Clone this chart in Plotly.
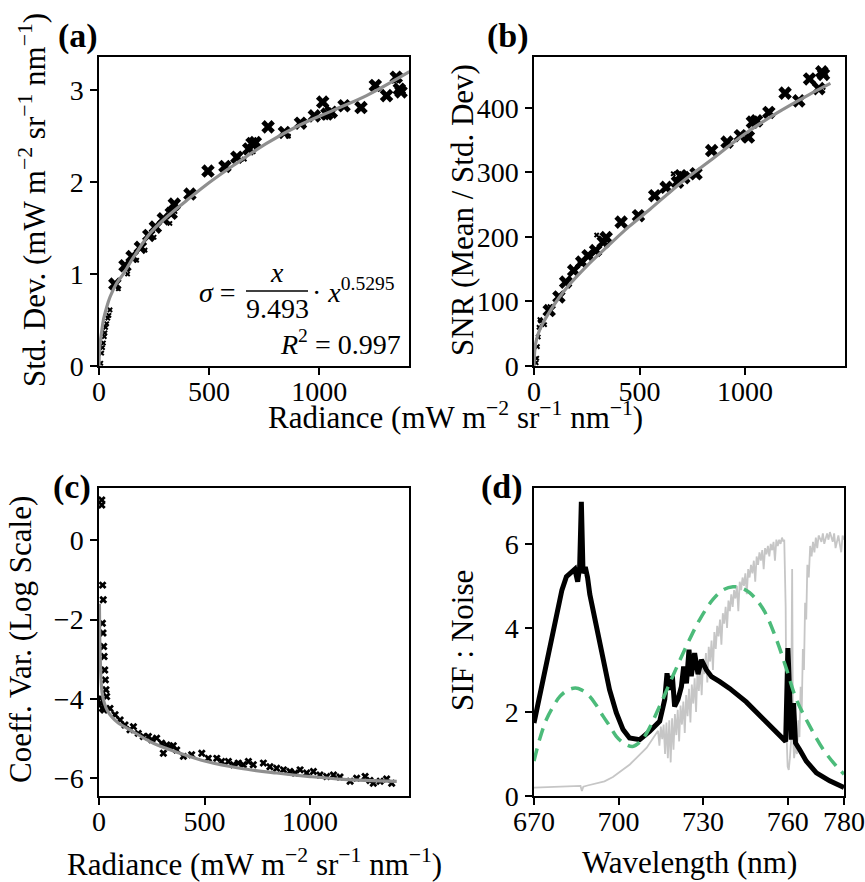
import plotly.graph_objects as go

W, H = 865, 882
def px(x): return x / W
def py(y): return 1 - y / H

FONT = "Liberation Serif"

# ---------------- data ----------------
# (a)/(b) main scatter points (same radiance positions)
radiance_pts = [72, 118, 150, 188, 226, 256, 292, 328, 342, 413, 495, 572, 626, 680, 695, 710,
                768, 842, 915, 978, 1016, 1035, 1055, 1113, 1190, 1255, 1306, 1350, 1364, 1372]
std_pts = [0.89, 1.09, 1.19, 1.29, 1.42, 1.51, 1.60, 1.66, 1.76, 1.87, 2.12, 2.17, 2.27, 2.36, 2.42, 2.43,
           2.60, 2.54, 2.64, 2.72, 2.87, 2.74, 2.76, 2.83, 2.81, 3.05, 2.94, 3.14, 3.01, 2.98]
snr_pts = [86, 107, 130, 148, 161, 171, 179, 192, 199, 223, 233, 264, 277, 285, 295, 292,
           298, 334, 347, 357, 355, 378, 380, 393, 423, 411, 445, 430, 456, 452]

# small markers in (a)
rad_small_a = [8, 12, 16, 20, 24, 27, 30, 35, 40, 45, 50, 88, 130, 171, 209, 250, 322, 345, 660, 700, 860, 930, 1030, 1350]
std_small_a = [0.03, 0.14, 0.20, 0.25, 0.32, 0.36, 0.42, 0.46, 0.52, 0.55, 0.61, 0.84, 1.00, 1.15, 1.26, 1.40,
               1.55, 1.68, 2.25, 2.33, 2.50, 2.62, 2.70, 3.10]
# small markers in (b)
rad_small_b = [10, 13, 16, 20, 24, 28, 32, 40, 50, 76, 170, 218, 297, 345, 660, 1370]
snr_small_b = [5, 12, 30, 45, 60, 72, 70, 66, 64, 92, 133, 159, 203, 188, 298, 432]

# fitted curves
fit_a_x = [0, 1, 3, 6, 12, 20, 35, 50, 80, 110, 156, 231, 307, 398, 504, 610, 761, 912, 1063, 1215, 1410]
fit_a_y = [0.0, 0.12, 0.20, 0.27, 0.37, 0.50, 0.64, 0.75, 0.90, 1.00, 1.18, 1.44, 1.62, 1.80, 2.00, 2.18,
           2.42, 2.62, 2.78, 2.94, 3.20]
fit_b_x = [0, 3, 8, 20, 40, 70, 110, 170, 250, 350, 450, 550, 700, 850, 1000, 1150, 1300, 1405]
fit_b_y = [0, 22, 35, 50, 65, 82, 102, 127, 155, 186, 216, 243, 285, 322, 360, 392, 420, 438]

# (c) coefficient of variation (log)
rad_c = [13, 13, 17, 20, 16, 19, 22, 24, 27, 30, 33, 36, 5, 9, 16, 24, 52, 76, 100, 123, 147, 163, 186, 210,
         234, 250, 273, 297, 321, 336, 352, 305, 368, 400, 439, 487, 518, 558, 581, 613, 637, 660, 684, 708,
         731, 779, 810, 842, 874, 905, 929, 953, 984, 1016, 1047, 1079, 1111, 1142, 1190, 1221, 1261, 1284,
         1300, 1332, 1363, 1387]
cv_c = [1.02, 0.89, -1.13, -1.50, -2.09, -2.34, -2.68, -2.93, -3.27, -3.52, -3.77, -3.94, -3.98, -4.11, -4.24,
        -4.28, -4.24, -4.40, -4.53, -4.66, -4.78, -4.70, -4.87, -4.95, -4.95, -5.03, -4.99, -5.12, -5.16, -5.20,
        -5.18, -5.37, -5.29, -5.45, -5.41, -5.37, -5.50, -5.50, -5.58, -5.58, -5.66, -5.62, -5.66, -5.58, -5.66,
        -5.62, -5.71, -5.75, -5.79, -5.83, -5.87, -5.79, -5.87, -5.83, -5.92, -5.96, -5.92, -5.97, -6.08, -6.00,
        -5.96, -6.06, -6.13, -6.08, -6.02, -6.13]
fit_c_x = [2, 4, 7, 10, 15, 25, 40, 60, 90, 147, 258, 384, 510, 668, 842, 1000, 1158, 1411]
fit_c_y = [-1.6, -2.6, -3.2, -3.55, -3.86, -4.10, -4.30, -4.45, -4.60, -4.78, -5.12, -5.37, -5.58, -5.75,
           -5.87, -5.96, -6.03, -6.08]

# (d) SIF : Noise
wl_sif = [670, 673.2, 676.7, 679.9, 681.5, 683, 684.5, 685.5, 686.2, 686.8, 687.4, 688.2, 689, 689.8, 692.1,
          694.5, 696.8, 699.2, 701.6, 703.9, 707.5, 711, 714.6, 716.4, 717.2, 718.1, 719.1, 719.9, 721.1, 722.3,
          723.1, 724.1, 725, 725.8, 727, 728.2, 729.4, 731.2, 733, 735.9, 739.4, 745.3, 751.3, 756, 759.3,
          760.1, 760.7, 761.3, 762.1, 762.8, 764.3, 766.6, 770.2, 774.9, 780]
sif_noise = [1.74, 2.77, 3.88, 4.90, 5.22, 5.30, 5.40, 5.10, 5.45, 7.00, 5.30, 5.45, 5.20, 4.80, 4.03,
             3.24, 2.53, 1.98, 1.58, 1.38, 1.34, 1.54, 1.78, 2.30, 2.92, 2.53, 2.85, 2.13, 2.30, 2.60,
             3.08, 2.68, 3.48, 2.85, 3.40, 2.90, 3.24, 3.00, 2.84, 2.72, 2.56, 2.24, 1.85, 1.54, 1.30,
             3.52, 2.45, 1.34, 2.21, 1.26, 1.10, 0.83, 0.55, 0.36, 0.20]

wl_gauss = [670, 672, 674.4, 677, 679.2, 682, 684.7, 687, 689.8, 692, 694.5, 697, 699.2, 702, 705, 707.5,
            710, 714.6, 719.3, 724.1, 728.8, 733.5, 737, 740.6, 743.5, 746.5, 751.3, 756, 759.6, 763.1,
            767.8, 772.6, 777.3, 780]
gauss_ref = [0.83, 1.35, 1.82, 2.15, 2.37, 2.52, 2.57, 2.52, 2.37, 2.17, 1.90, 1.65, 1.42, 1.25, 1.18, 1.28,
             1.50, 2.14, 2.86, 3.57, 4.20, 4.68, 4.90, 4.98, 4.95, 4.84, 4.45, 3.73, 3.02, 2.30,
             1.67, 1.11, 0.71, 0.52]

wl_rad = [670, 675, 680, 685, 686.5, 687, 687.5, 689, 692, 695, 698, 701, 704, 707, 710, 712, 713.5,
          714.0, 714.5, 715.0, 715.5, 716.0, 716.5, 717.0, 717.5, 718.0, 718.5, 719.0, 719.5, 720.0, 720.5,
          721.0, 721.5, 722.0, 722.5, 723.0, 723.5, 724.0, 724.5, 725.0, 725.5, 726.0, 726.5, 727.0, 727.5,
          728.0, 728.5, 729.0, 729.5, 730.0, 730.5, 731.0, 731.5, 732.0, 732.5, 733.0, 733.5, 734.0, 734.5,
          735.0, 735.5, 736.0, 736.5, 737.0, 737.5, 738.0, 738.5, 739.0, 739.5, 740.0, 740.5, 741.0, 741.5,
          742.0, 742.5, 743.0, 743.5, 744.0, 744.5, 745.0, 745.5, 746.0, 746.5, 747.0, 747.5, 748.0, 748.5,
          749.0, 749.5, 750.0, 750.5, 751.0, 751.5, 752.0, 752.5, 753.0, 753.5, 754.0, 754.5, 755.0, 755.5,
          756.0, 756.5, 757.0, 757.5, 758.0, 758.5, 758.8,
          759.3, 759.6, 760.0, 760.4, 760.8, 761.2, 761.6, 761.9, 762.3, 762.8, 763.3, 763.8, 764.2, 764.6,
          765.0, 765.4, 765.8, 766.2, 766.6, 767.0, 767.5, 768, 768.5, 769, 769.5, 770, 770.5, 771, 772,
          772.5, 773, 774, 774.5, 775, 776, 776.5, 777, 778, 778.5, 779, 779.5, 780]
rad_scaled = [0.20, 0.21, 0.22, 0.23, 0.24, 0.12, 0.22, 0.25, 0.30, 0.35, 0.45, 0.60, 0.75, 0.95, 1.15, 1.35, 1.50,
              1.55, 1.20, 1.65, 1.35, 1.70, 1.00, 1.75, 0.90, 1.80, 0.80, 1.85, 1.10, 1.95, 1.45,
              2.05, 1.30, 2.15, 1.70, 2.25, 1.50, 2.40, 1.90, 2.55, 1.75, 2.65, 2.20, 2.80, 2.00,
              2.95, 2.50, 3.10, 2.40, 3.25, 2.90, 3.40, 2.70, 3.55, 3.20, 3.70, 3.00, 3.90, 3.50,
              4.05, 3.80, 4.20, 3.60, 4.35, 4.10, 4.50, 4.00, 4.65, 4.40, 4.80, 4.50, 4.90, 4.70,
              5.00, 4.40, 5.10, 4.90, 5.20, 5.00, 5.30, 4.80, 5.40, 5.20, 5.50, 5.30, 5.60, 5.10,
              5.70, 5.50, 5.80, 5.60, 5.85, 5.40, 5.90, 5.75, 5.95, 5.70, 6.00, 5.85, 6.05, 5.60,
              6.10, 5.95, 6.10, 6.00, 6.15, 6.05, 6.10,
              4.50, 1.50, 0.70, 0.62, 0.90, 1.30, 5.40, 1.40, 0.90, 1.20, 1.00, 1.80, 1.40, 2.60,
              2.00, 3.50, 3.00, 4.60, 4.20, 5.50, 5.20, 5.95, 5.70, 6.05, 5.80, 6.15, 5.90, 6.20, 6.05,
              6.25, 6.00, 6.25, 6.10, 6.28, 6.05, 6.25, 5.90, 6.20, 6.00, 5.80, 6.20, 6.10]

# ---------------- figure ----------------
fig = go.Figure()

def xy(n):
    return ("x" if n == 1 else f"x{n}", "y" if n == 1 else f"y{n}")

FIT_GRAY = "#8f8f8f"

# (a)
xa, ya = xy(1)
fig.add_trace(go.Scatter(x=rad_small_a, y=std_small_a, mode="markers", xaxis=xa, yaxis=ya,
                         marker=dict(symbol="x", size=5, color="black", line=dict(width=0))))
fig.add_trace(go.Scatter(x=radiance_pts, y=std_pts, mode="markers", xaxis=xa, yaxis=ya,
                         marker=dict(symbol="x", size=12, color="black", line=dict(width=0))))
fig.add_trace(go.Scatter(x=fit_a_x, y=fit_a_y, mode="lines", xaxis=xa, yaxis=ya,
                         line=dict(color=FIT_GRAY, width=3.2, shape="spline")))
# (b)
xb, yb = xy(2)
fig.add_trace(go.Scatter(x=rad_small_b, y=snr_small_b, mode="markers", xaxis=xb, yaxis=yb,
                         marker=dict(symbol="x", size=5, color="black", line=dict(width=0))))
fig.add_trace(go.Scatter(x=radiance_pts, y=snr_pts, mode="markers", xaxis=xb, yaxis=yb,
                         marker=dict(symbol="x", size=12, color="black", line=dict(width=0))))
fig.add_trace(go.Scatter(x=fit_b_x, y=fit_b_y, mode="lines", xaxis=xb, yaxis=yb,
                         line=dict(color=FIT_GRAY, width=3.2, shape="spline")))
# (c)
xc, yc = xy(3)
fig.add_trace(go.Scatter(x=rad_c, y=cv_c, mode="markers", xaxis=xc, yaxis=yc,
                         marker=dict(symbol="x", size=7, color="black", line=dict(width=0))))
fig.add_trace(go.Scatter(x=fit_c_x, y=fit_c_y, mode="lines", xaxis=xc, yaxis=yc,
                         line=dict(color=FIT_GRAY, width=3.2, shape="spline")))
# (d)
xd, yd = xy(4)
fig.add_trace(go.Scatter(x=wl_rad, y=rad_scaled, mode="lines", xaxis=xd, yaxis=yd,
                         line=dict(color="#c6c6c6", width=1.8)))
fig.add_trace(go.Scatter(x=wl_sif, y=sif_noise, mode="lines", xaxis=xd, yaxis=yd,
                         line=dict(color="black", width=5)))
fig.add_trace(go.Scatter(x=wl_gauss, y=gauss_ref, mode="lines", xaxis=xd, yaxis=yd,
                         line=dict(color="#4cbb7a", width=3.5, dash="13px,8px", shape="spline")))

axis_common = dict(showline=True, linecolor="black", linewidth=1.5, mirror=True, ticks="outside",
                   ticklen=7, tickwidth=1.5, tickcolor="black", showgrid=False, zeroline=False,
                   automargin=False, tickfont=dict(family=FONT, size=28, color="black"))
xcommon = dict(axis_common, ticklabelstandoff=-7)
ycommon = dict(axis_common, ticklabelstandoff=1)

fig.update_layout(
    width=W, height=H, margin=dict(l=0, r=0, t=0, b=0), showlegend=False,
    paper_bgcolor="white", plot_bgcolor="white",
    xaxis=dict(domain=[px(99), px(409)], range=[0, 1408], tickvals=[0, 500, 1000], anchor="y", **xcommon),
    yaxis=dict(domain=[py(366), py(57)], range=[0, 3.36], tickvals=[0, 1, 2, 3], anchor="x", **ycommon),
    xaxis2=dict(domain=[px(534), px(845)], range=[0, 1474], tickvals=[0, 500, 1000], anchor="y2", **xcommon),
    yaxis2=dict(domain=[py(366), py(57)], range=[0, 479], tickvals=[0, 100, 200, 300, 400], anchor="x2", **ycommon),
    xaxis3=dict(domain=[px(99), px(409)], range=[0, 1469], tickvals=[0, 500, 1000], anchor="y3", **xcommon),
    yaxis3=dict(domain=[py(796), py(488)], range=[-6.45, 1.32], tickvals=[-6, -4, -2, 0],
                ticktext=["\u22126", "\u22124", "\u22122", "0"], anchor="x3", **ycommon),
    xaxis4=dict(domain=[px(534), px(844)], range=[670, 780], tickvals=[670, 700, 730, 760, 780], anchor="y4", **xcommon),
    yaxis4=dict(domain=[py(796), py(488)], range=[0, 7.33], tickvals=[0, 2, 4, 6], anchor="x4", **ycommon),
)

RAD_TITLE = "Radiance (mW m<sup>\u22122</sup> sr<sup>\u22121</sup> nm<sup>\u22121</sup>)"

def ann(text, x, y, size=31, angle=0, xanchor="center", yanchor="middle", bold=False, family=FONT):
    fig.add_annotation(text=f"<b>{text}</b>" if bold else text, x=px(x), y=py(y), xref="paper", yref="paper",
                       showarrow=False, textangle=angle, xanchor=xanchor, yanchor=yanchor,
                       font=dict(family=family, size=size, color="black"))

# axis titles
ann(RAD_TITLE, 455, 415)
ann(RAD_TITLE, 254, 862)
ann("Wavelength (nm)", 689, 862)
ann("Std. Dev. (mW m<sup>\u22122</sup> sr<sup>\u22121</sup> nm<sup>\u22121</sup>)", 33, 200, angle=-90)
ann("SNR (Mean / Std. Dev)", 462, 210, angle=-90)
ann("Coeff. Var. (Log Scale)", 20, 640, angle=-90)
ann("SIF : Noise", 462, 640, angle=-90)

# panel labels
ann("(a)", 78, 36, size=34, bold=True)
ann("(b)", 508, 36, size=34, bold=True)
ann("(c)", 72, 487, size=34, bold=True)
ann("(d)", 502, 487, size=34, bold=True)

# equation
EQF = FONT
ann("<i>σ</i> =", 238, 293, size=28, xanchor="right", family=EQF)
ann("<i>x</i>", 277, 272, size=28, family=EQF)
ann("9.493", 277, 308, size=28, family=EQF)
ann("· <i>x</i><sup>0.5295</sup>", 310, 290, size=28, xanchor="left", family=EQF)
ann("<i>R</i><sup>2</sup> = 0.997", 403, 343, size=28, xanchor="right", family=EQF)
fig.add_shape(type="line", xref="paper", yref="paper", x0=px(246), x1=px(308), y0=py(291), y1=py(291),
              line=dict(color="black", width=1.5))

fig.write_html("out.html")
